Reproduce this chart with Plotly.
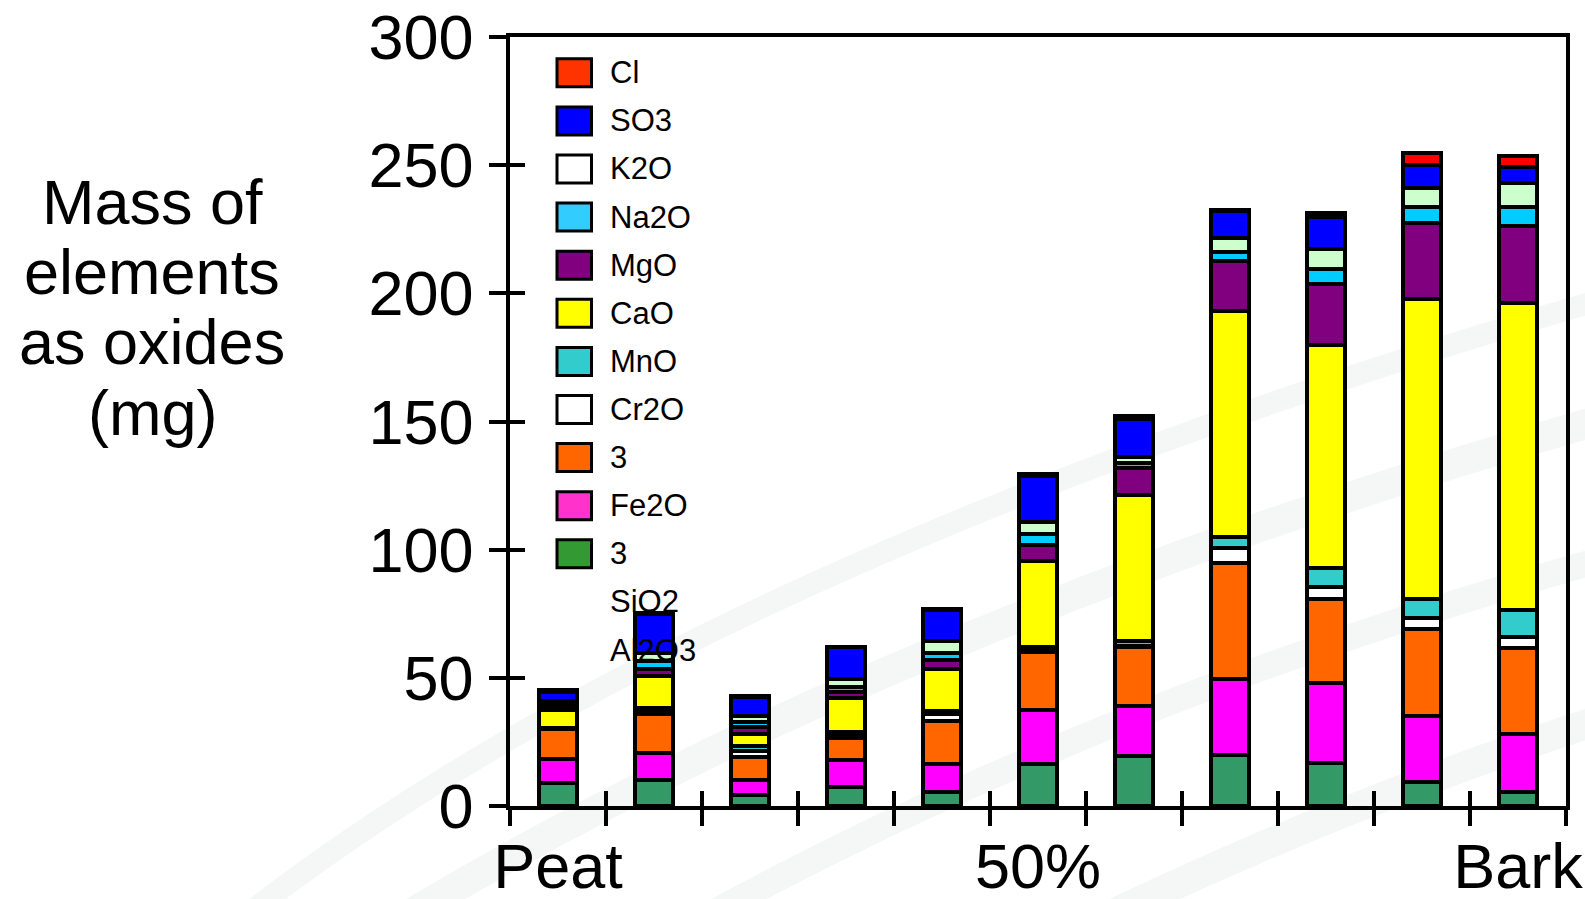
import plotly.graph_objects as go

# Samples along the peat / bark mixing series
categories = ["Peat", "10%", "20%", "30%", "40%", "50%", "60%", "70%", "80%", "90%", "Bark"]
tick_labels = ["Peat", "", "", "", "", "50%", "", "", "", "", "Bark"]
y_ticks = [0, 50, 100, 150, 200, 250, 300]

# Mass of each oxide (mg), stacked bottom to top
sio2 = [9.1, 10.1, 4.3, 7.3, 5.6, 16.4, 19.5, 19.8, 16.6, 9.5, 5.5]
al2o3 = [9.1, 10.7, 5.8, 10.6, 10.8, 21.1, 19.5, 29.6, 31.2, 25.7, 22.6]
fe2o3 = [11.8, 15.1, 9.1, 8.5, 16.8, 22.7, 22.9, 45.3, 33.0, 34.0, 33.6]
cr2o3 = [0.3, 1.1, 2.1, 1.3, 2.6, 0.8, 0.6, 6.1, 4.8, 4.3, 4.4]
mno = [0.3, 1.1, 2.1, 1.3, 1.4, 0.9, 1.9, 4.3, 7.4, 7.4, 10.5]
cao = [7.0, 12.6, 4.7, 13.0, 16.4, 33.8, 56.9, 88.2, 87.0, 117.0, 119.5]
mgo = [0.6, 2.8, 2.6, 2.4, 3.2, 6.0, 10.6, 19.5, 23.8, 29.6, 30.2]
na2o = [1.6, 3.2, 2.1, 1.9, 3.0, 4.3, 1.8, 3.2, 5.8, 6.3, 7.5]
k2o = [1.0, 2.9, 2.4, 3.1, 4.6, 4.8, 2.6, 5.7, 7.8, 7.4, 9.1]
so3 = [3.5, 15.3, 7.4, 12.5, 12.1, 18.0, 14.6, 10.4, 12.4, 8.9, 6.2]
cl = [0.9, 0.4, 0.3, 0.3, 0.4, 0.6, 1.2, 0.4, 1.4, 4.8, 4.6]

series = [
    ("SiO2", sio2, "#339966"),
    ("Al2O3", al2o3, "#FF00FF"),
    ("Fe2O3", fe2o3, "#FF6600"),
    ("Cr2O3", cr2o3, "#FFFFFF"),
    ("MnO", mno, "#33CCCC"),
    ("CaO", cao, "#FFFF00"),
    ("MgO", mgo, "#800080"),
    ("Na2O", na2o, "#00CCFF"),
    ("K2O", k2o, "#CCFFCC"),
    ("SO3", so3, "#0000FF"),
    ("Cl", cl, "#FF0000"),
]

# Legend box entries (text rows and the swatches beside the first rows)
legend_text = ["Cl", "SO3", "K2O", "Na2O", "MgO", "CaO", "MnO", "Cr2O", "3", "Fe2O", "3", "SiO2", "Al2O3"]
legend_swatch = ["#FF3300", "#0000FF", "#FFFFFF", "#33CCFF", "#800080", "#FFFF00",
                 "#33CCCC", "#FFFFFF", "#FF6600", "#FF33CC", "#339933"]

title_lines = ["Mass of", "elements", "as oxides", "(mg)"]

FONT = "Liberation Sans, Arial, sans-serif"
W, H = 1585, 899
L, R, T, B = 510, 1566, 37, 806  # plot area in pixels


def px(x, y):
    """Pixel position -> paper coordinates."""
    return (x - L) / (R - L), (B - y) / (B - T)


fig = go.Figure()

for name, vals, color in series:
    fig.add_trace(go.Bar(
        x=categories, y=vals, name=name,
        marker=dict(color=color, line=dict(color="black", width=4)),
        showlegend=False,
    ))

# empty trace that carries the inner tick axes
fig.add_trace(go.Scatter(x=[], y=[], xaxis="x2", yaxis="y2", showlegend=False))

shapes = []
annotations = []

# faint background swooshes
swooshes = [
    ((240, 920), (700, 560), (1600, 300), 22),
    ((400, 920), (900, 620), (1600, 420), 30),
    ((700, 920), (1100, 700), (1600, 560), 26),
    ((1100, 920), (1350, 800), (1600, 720), 30),
]
for p0, p1, p2, w in swooshes:
    a, b, c = px(*p0), px(*p1), px(*p2)
    shapes.append(dict(
        type="path", xref="paper", yref="paper", layer="below",
        path=f"M {a[0]},{a[1]} Q {b[0]},{b[1]} {c[0]},{c[1]}",
        line=dict(color="#F5F6F6", width=w),
    ))

# legend
row0, row_step = 72.8, 48.1
for i, txt in enumerate(legend_text):
    cy = row0 + i * row_step
    if i < len(legend_swatch):
        x0, y0 = px(557, cy + 14)
        x1, y1 = px(591.5, cy - 14)
        shapes.append(dict(type="rect", xref="paper", yref="paper",
                           x0=x0, y0=y0, x1=x1, y1=y1,
                           fillcolor=legend_swatch[i], line=dict(color="black", width=3)))
    tx, ty = px(608, cy)
    annotations.append(dict(text=txt, xref="paper", yref="paper", x=tx, y=ty,
                            xanchor="left", yanchor="middle", showarrow=False,
                            font=dict(family=FONT, size=31, color="black")))

# y-axis title, one annotation per line
for i, line in enumerate(title_lines):
    tx, ty = px(152, 202 + i * 70.2)
    annotations.append(dict(text=line, xref="paper", yref="paper", x=tx, y=ty,
                            xanchor="center", yanchor="middle", showarrow=False,
                            font=dict(family=FONT, size=63, color="black")))

axis_common = dict(showgrid=False, zeroline=False, tickcolor="black", tickwidth=3.5,
                   automargin=False)

fig.update_layout(
    width=W, height=H,
    margin=dict(l=L, r=W - R, t=T, b=H - B, pad=0, autoexpand=False),
    paper_bgcolor="white", plot_bgcolor="rgba(0,0,0,0)",
    barmode="stack", bargap=0.6,
    font=dict(family=FONT, color="black"),
    shapes=shapes, annotations=annotations,
    xaxis=dict(
        type="category", categoryorder="array", categoryarray=categories,
        range=[-0.5, len(categories) - 0.5],
        tickmode="array", tickvals=categories, ticktext=tick_labels,
        tickson="boundaries", ticks="outside", ticklen=16, tickangle=0,
        tickfont=dict(family=FONT, size=63, color="black"), ticklabelstandoff=3,
        showline=True, linecolor="black", linewidth=3.5, mirror=True,
        **axis_common,
    ),
    yaxis=dict(
        range=[0, 300], tickmode="array", tickvals=y_ticks,
        ticks="outside", ticklen=17,
        tickfont=dict(family=FONT, size=63, color="black"), ticklabelstandoff=3,
        showline=True, linecolor="black", linewidth=3.5, mirror=True,
        **axis_common,
    ),
    xaxis2=dict(
        overlaying="x", anchor="y", side="bottom",
        range=[-0.5, len(categories) - 0.5],
        tickmode="array", tickvals=[i - 0.5 for i in range(len(categories) + 1)],
        ticks="inside", ticklen=15, showticklabels=False, showline=False,
        **axis_common,
    ),
    yaxis2=dict(
        overlaying="y", anchor="x", side="left",
        range=[0, 300], tickmode="array", tickvals=y_ticks,
        ticks="inside", ticklen=15, showticklabels=False, showline=False,
        **axis_common,
    ),
)

fig.write_html("out.html")
